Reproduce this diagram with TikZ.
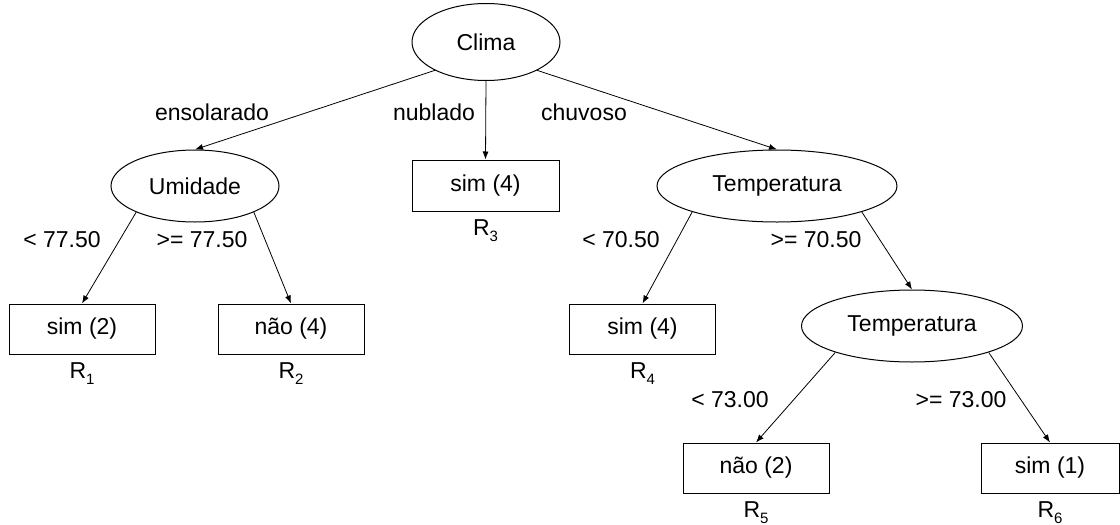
\documentclass[tikz,border=0pt]{standalone}
\usepackage{fontspec}
\setmainfont{Liberation Sans}
\usetikzlibrary{arrows.meta,positioning,shapes.geometric}
\newcommand{\rsub}[1]{R\raisebox{-6pt}{\fontsize{15}{15}\selectfont #1}}
\begin{document}
\begin{tikzpicture}[x=1pt,y=-1pt,
    font=\fontsize{23}{27}\selectfont,
    teste/.style={draw,ellipse,line width=1pt,inner sep=0pt,minimum height=72pt},
    folha/.style={draw,rectangle,line width=1pt,inner sep=0pt,
      minimum width=146pt,minimum height=50pt},
    regra/.style={inner sep=0pt,below=8pt of #1}]
  \useasboundingbox (0,0) rectangle (1120,525);
  \draw
    (486,42) node[teste,minimum width=148pt,minimum height=77pt] (0){Clima}
    (195,186) node[teste,minimum width=168pt] (1){Umidade}
    (485.5,185.5) node[folha,minimum width=147pt,minimum height=51pt] (2){sim (4)}
    (777,186) node[teste,minimum width=240pt] (3){Temperatura}
    (82,329) node[folha] (4){sim (2)}
    (291,329) node[folha] (5){não (4)}
    (642.5,329) node[folha] (6){sim (4)}
    (912,326) node[teste,minimum width=221pt] (7){Temperatura}
    (756,468) node[folha] (8){não (2)}
    (1050,468) node[folha,minimum width=138pt] (9){sim (1)};
  % regras
  \node[regra=4] (r1) {\rsub{1}};
  \node[regra=5] (r2) {\rsub{2}};
  \node[regra=2] (r3) {\rsub{3}};
  \node[regra=6] (r4) {\rsub{4}};
  \node[regra=8] (r5) {\rsub{5}};
  \node[regra=9] (r6) {\rsub{6}};
  % rotulos dos ramos
  \draw
    (212,112) node (e1){ensolarado}
    (434,112) node (e2){nublado}
    (584,112) node (e3){chuvoso}
    (62,240) node (e4){< 77.50}
    (202,240) node (e5){>= 77.50}
    (621,240) node (e6){< 70.50}
    (816,240) node (e7){>= 70.50}
    (730,400) node (e8){< 73.00}
    (961,400) node (e9){>= 73.00};
  \begin{scope}[-{Latex[length=8pt,width=6pt]},line width=0.8pt]
    \draw (0.209) to (1.north);
    \draw (0.south) to (2.north);
    \draw (0.331) to (3.north);
    \draw (1.204) to (4.north);
    \draw (1.336) to (5.north);
    \draw (3.197) to (6.north);
    \draw (3.343) to (7.north);
    \draw (7.199) to (8.north);
    \draw (7.341) to (9.north);
  \end{scope}
\end{tikzpicture}
\end{document}
